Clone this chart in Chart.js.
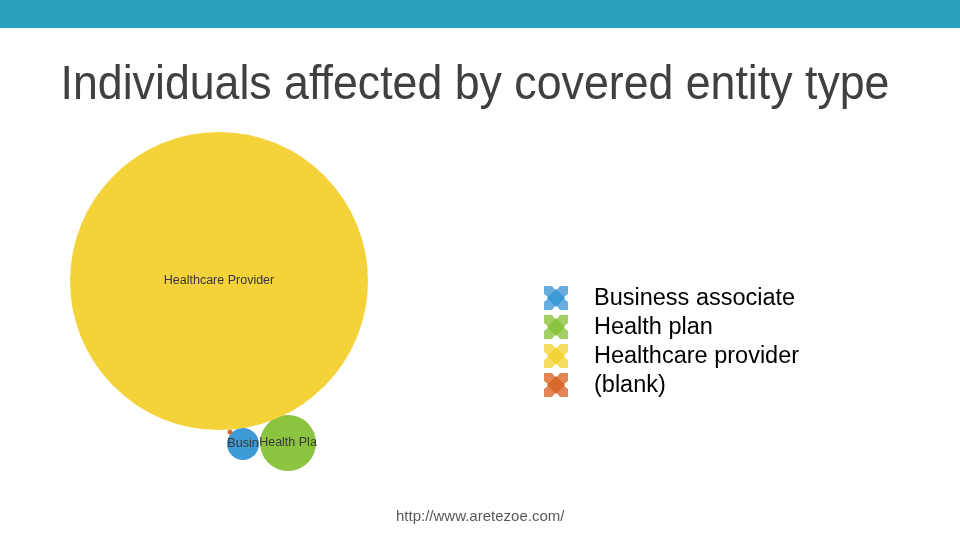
<!DOCTYPE html>
<html>
<head>
<meta charset="utf-8">
<script src="https://cdn.jsdelivr.net/npm/chart.js@4"></script>
<style>
  html, body { margin:0; padding:0; width:960px; height:540px; background:#fff; overflow:hidden; font-family:"Liberation Sans", Arial, sans-serif; }
  #band { position:absolute; left:0; top:0; width:960px; height:28px; background:#2CA1BE; }
  #title { position:absolute; left:0; top:54px; width:950px; text-align:center; font-size:49px; color:#404040; letter-spacing:0px; white-space:nowrap; line-height:56px; transform:scaleX(0.912); transform-origin:475px 0; }
  #wrap { position:absolute; left:0; top:0; width:960px; height:540px; }
  #legend { position:absolute; left:543px; top:283px; }
  .item { height:29px; display:flex; align-items:center; font-size:23.5px; color:#000; }
  .item canvas { margin-right:25px; }
  #footer { position:absolute; left:0; top:507px; width:960px; font-size:15px; color:#595959; }
  #footer span { position:absolute; left:396px; }
</style>
</head>
<body>
<div id="band"></div>
<div id="wrap"><canvas id="c" width="960" height="540"></canvas></div>
<div id="title">Individuals affected by covered entity type</div>
<div id="legend"></div>
<div id="footer"><span>http://www.aretezoe.com/</span></div>
<script>
// Categories and values (individuals affected, millions)
const categories = ["Business associate", "Health plan", "Healthcare provider", "(blank)"];
const bubbleLabels = ["Business Associate", "Health Plan", "Healthcare Provider", ""];
const values = [1.02, 3.14, 88.8, 0.025];
// Packed-layout positions of each bubble (layout units)
const layoutX = [243, 288, 219, 230];
const layoutY = [444, 443, 281, 432];
const colors = ["#3E9AD6", "#8CC43F", "#F4D23A", "#D9692A"];

const maxVal = Math.max(...values);
const maxRadius = 149;

const data = {
  datasets: [{
    data: values.map((v, i) => ({ x: layoutX[i], y: layoutY[i], v: v, label: bubbleLabels[i] })),
    backgroundColor: colors,
    borderWidth: 0,
    radius: ctx => maxRadius * Math.sqrt(ctx.raw.v / maxVal),
    hoverRadius: 0,
    clip: false
  }]
};

const labelPlugin = {
  id: 'bubbleLabels',
  afterDatasetsDraw(chart) {
    const ctx = chart.ctx;
    const meta = chart.getDatasetMeta(0);
    ctx.save();
    ctx.font = '12.5px "Liberation Sans", Arial, sans-serif';
    ctx.fillStyle = '#383838';
    ctx.textAlign = 'center';
    ctx.textBaseline = 'middle';
    meta.data.forEach((el, i) => {
      const raw = chart.data.datasets[0].data[i];
      let t = raw.label;
      if (!t) return;
      const r = el.options.radius;
      const maxW = 2 * r + 3;
      while (t.length && ctx.measureText(t).width > maxW) t = t.slice(0, -1);
      ctx.fillText(t, el.x, el.y);
    });
    ctx.restore();
  }
};

new Chart(document.getElementById('c'), {
  type: 'bubble',
  data: data,
  options: {
    responsive: false,
    animation: false,
    layout: { padding: 0, autoPadding: false },
    plugins: { legend: { display: false }, tooltip: { enabled: false } },
    scales: {
      x: { type: 'linear', min: 0, max: 960, display: false },
      y: { type: 'linear', min: 0, max: 540, reverse: true, display: false }
    },
    events: []
  },
  plugins: [labelPlugin]
});

// Legend
function lighten(hex, a) {
  const n = parseInt(hex.slice(1), 16);
  const r = (n >> 16) & 255, g = (n >> 8) & 255, b = n & 255;
  const m = c => Math.round(c + (255 - c) * a);
  return `rgb(${m(r)},${m(g)},${m(b)})`;
}
const legend = document.getElementById('legend');
categories.forEach((name, i) => {
  const row = document.createElement('div');
  row.className = 'item';
  const ic = document.createElement('canvas');
  ic.width = 26; ic.height = 26;
  ic.style.width = '26px'; ic.style.height = '26px';
  const g = ic.getContext('2d');
  g.fillStyle = lighten(colors[i], 0.2);
  g.fillRect(1, 1, 24, 24);
  g.fillStyle = '#fff';
  const s = 4, d = 5;
  g.beginPath(); g.moveTo(13 - s, 1); g.lineTo(13 + s, 1); g.lineTo(13, 1 + d); g.closePath(); g.fill();
  g.beginPath(); g.moveTo(13 - s, 25); g.lineTo(13 + s, 25); g.lineTo(13, 25 - d); g.closePath(); g.fill();
  g.beginPath(); g.moveTo(1, 13 - s); g.lineTo(1, 13 + s); g.lineTo(1 + d, 13); g.closePath(); g.fill();
  g.beginPath(); g.moveTo(25, 13 - s); g.lineTo(25, 13 + s); g.lineTo(25 - d, 13); g.closePath(); g.fill();
  g.fillStyle = colors[i];
  const q = 9;
  g.beginPath(); g.moveTo(13, 13 - q); g.lineTo(13 + q, 13); g.lineTo(13, 13 + q); g.lineTo(13 - q, 13); g.closePath(); g.fill();
  row.appendChild(ic);
  const sp = document.createElement('span');
  sp.textContent = name;
  row.appendChild(sp);
  legend.appendChild(row);
});
</script>
</body>
</html>
